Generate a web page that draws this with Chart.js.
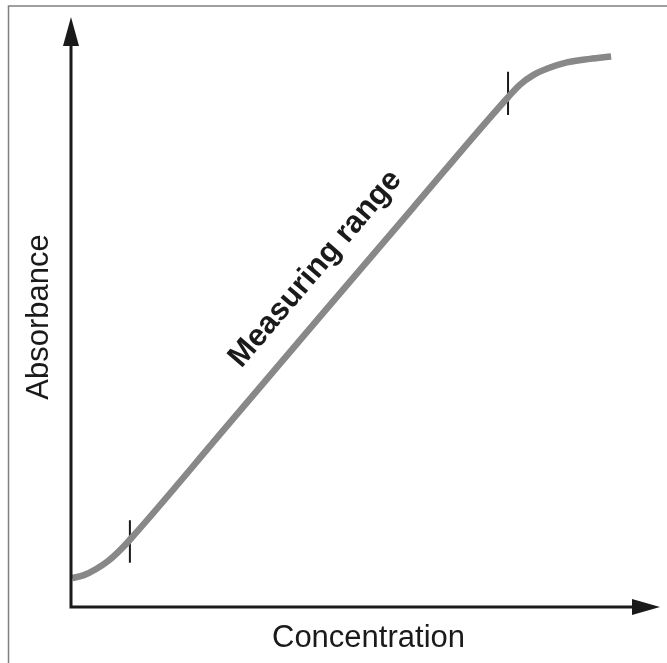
<!DOCTYPE html>
<html>
<head>
   <meta charset="utf-8">
   <script src="https://cdn.jsdelivr.net/npm/chart.js@4.4.1/dist/chart.umd.min.js"></script>
   <title>Measuring range</title>
   <style>
      html, body { margin: 0; padding: 0; background: #fff; }
      #wrap { width: 667px; height: 663px; position: relative; }
   </style>
</head>
<body>
<div id="wrap">
   <canvas id="curve"></canvas>
</div>
<script>
   // calibration curve (relative units 0..100)
   const concentration = [0.2, 2.2, 4.2, 6.3, 8.3, 10.0, 26.0, 42.1, 58.1, 74.2, 76.2, 78.4, 81.0, 84.2, 88.1, 91.7];
   const absorbance    = [4.9, 5.4, 6.4, 7.8, 9.6, 11.4, 30.1, 49.0, 67.7, 86.4, 88.5, 90.1, 91.3, 92.3, 92.9, 93.3];
   // limits of the measuring range (small vertical marks)
   const lowerMarkX = [10.0, 10.0];
   const lowerMarkY = [14.7, 7.5];
   const upperMarkX = [74.2, 74.2];
   const upperMarkY = [90.7, 83.4];
   const xTitle = 'Concentration';
   const yTitle = 'Absorbance';
   const rangeLabel = 'Measuring range';

   function pts(xs, ys) {
      return xs.map((x, i) => ({ x: x, y: ys[i] }));
   }

   const FONT = '"Liberation Sans", Arial, Helvetica, sans-serif';

   const decor = {
      id: 'decor',
      afterDatasetsDraw(chart) {
         const ctx = chart.ctx;
         const a = chart.chartArea;
         const xs = chart.scales.x, ys = chart.scales.y;
         ctx.save();

         // frame (top + left only)
         ctx.strokeStyle = '#808080';
         ctx.lineWidth = 1.5;
         ctx.beginPath();
         ctx.moveTo(8.5, 663);
         ctx.lineTo(8.5, 6);
         ctx.lineTo(667, 6);
         ctx.stroke();

         // axes
         ctx.strokeStyle = '#1a1a1a';
         ctx.fillStyle = '#1a1a1a';
         ctx.lineWidth = 3;
         ctx.beginPath();
         ctx.moveTo(a.left, a.top + 20);
         ctx.lineTo(a.left, a.bottom);
         ctx.lineTo(a.right - 20, a.bottom);
         ctx.stroke();

         // arrow heads
         ctx.beginPath();
         ctx.moveTo(a.left, a.top);
         ctx.lineTo(a.left - 8, a.top + 29);
         ctx.lineTo(a.left + 8, a.top + 29);
         ctx.closePath();
         ctx.fill();
         ctx.beginPath();
         ctx.moveTo(a.right, a.bottom);
         ctx.lineTo(a.right - 28, a.bottom - 8);
         ctx.lineTo(a.right - 28, a.bottom + 8);
         ctx.closePath();
         ctx.fill();

         // axis titles
         ctx.font = '31px ' + FONT;
         ctx.textAlign = 'center';
         ctx.textBaseline = 'alphabetic';
         ctx.fillText(xTitle, (a.left + a.right) / 2 + 3, 647);
         ctx.save();
         ctx.translate(48, 317);
         ctx.rotate(-Math.PI / 2);
         ctx.fillText(yTitle, 0, 0);
         ctx.restore();

         // label along the linear part
         const x0 = xs.getPixelForValue(lowerMarkX[0]);
         const y0 = ys.getPixelForValue(absorbance[5]);
         const x1 = xs.getPixelForValue(upperMarkX[0]);
         const y1 = ys.getPixelForValue(absorbance[9]);
         const ang = Math.atan2(y1 - y0, x1 - x0);
         ctx.save();
         ctx.translate(xs.getPixelForValue(41.5), ys.getPixelForValue(57.3));
         ctx.rotate(ang);
         ctx.font = 'bold 31px ' + FONT;
         ctx.textBaseline = 'middle';
         ctx.fillText(rangeLabel, 0, 0);
         ctx.restore();

         ctx.restore();
      }
   };

   new Chart(document.getElementById('curve'), {
      type: 'line',
      data: {
         datasets: [
            {
               data: pts(concentration, absorbance),
               borderColor: '#888888',
               borderWidth: 6.5,
               pointRadius: 0,
               cubicInterpolationMode: 'monotone',
               borderCapStyle: 'butt',
               clip: false
            },
            {
               data: pts(lowerMarkX, lowerMarkY),
               borderColor: '#1a1a1a',
               borderWidth: 2,
               pointRadius: 0,
               clip: false
            },
            {
               data: pts(upperMarkX, upperMarkY),
               borderColor: '#1a1a1a',
               borderWidth: 2,
               pointRadius: 0,
               clip: false
            }
         ]
      },
      options: {
         responsive: true,
         maintainAspectRatio: false,
         animation: false,
         layout: { padding: { left: 71, right: 7, top: 17, bottom: 56 } },
         plugins: { legend: { display: false }, tooltip: { enabled: false } },
         scales: {
            x: { type: 'linear', min: 0, max: 100, display: false },
            y: { type: 'linear', min: 0, max: 100, display: false }
         }
      },
      plugins: [decor]
   });
</script>
</body>
</html>
